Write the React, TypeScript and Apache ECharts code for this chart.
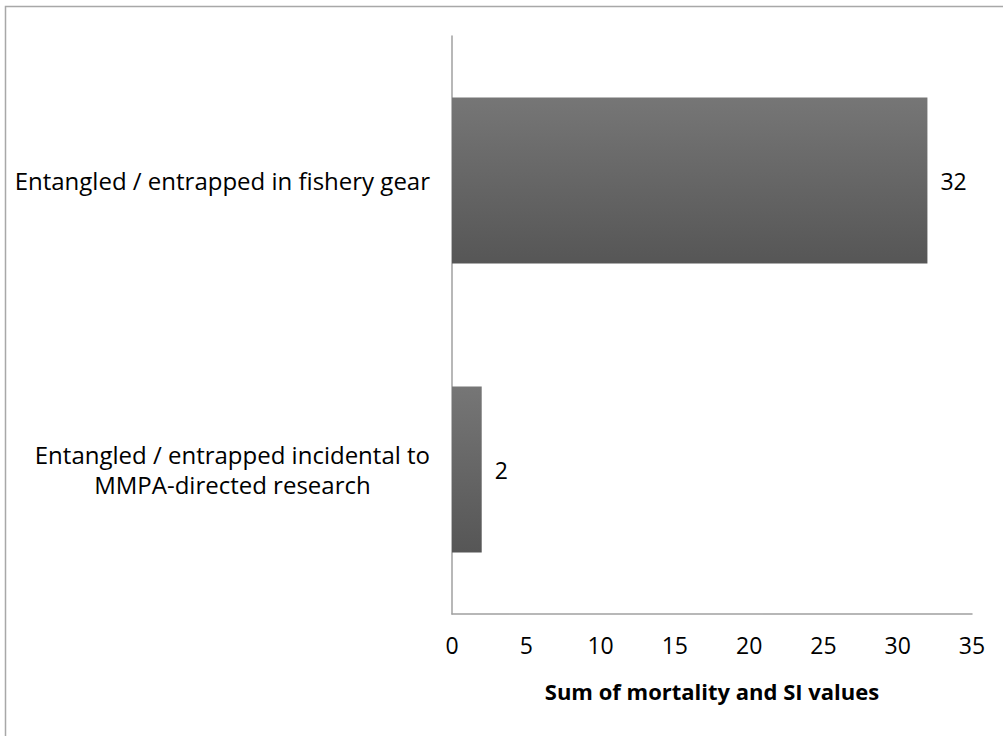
import React, { useEffect, useRef } from "react";
import * as echarts from "echarts";

const categories = [
  "Entangled / entrapped in fishery gear",
  "Entangled / entrapped incidental to\nMMPA-directed research",
];
const values = [32, 2];
const xTicks = [0, 5, 10, 15, 20, 25, 30, 35];
const xAxisTitle = "Sum of mortality and SI values";

const FONT = "'Open Sans', sans-serif";

export default function App() {
  const ref = useRef<HTMLDivElement>(null);
  useEffect(() => {
    if (!ref.current) return;
    const chart = echarts.init(ref.current, undefined, { renderer: "svg" });
    chart.setOption({
      animation: false,
      backgroundColor: "#ffffff",
      textStyle: { fontFamily: FONT },
      grid: { left: 452, top: 36, right: 31, bottom: 122, containLabel: false },
      graphic: [
        {
          type: "rect",
          shape: { x: 5.5, y: 6.5, width: 1200, height: 1200 },
          style: { fill: "none", stroke: "#a8a8a8", lineWidth: 1.5 },
          silent: true,
        },
      ],
      xAxis: {
        type: "value",
        min: xTicks[0],
        max: xTicks[xTicks.length - 1],
        interval: 5,
        name: xAxisTitle,
        nameLocation: "middle",
        nameGap: 66,
        nameTextStyle: { fontFamily: FONT, fontSize: 22, fontWeight: "bold", color: "#000" },
        axisLine: { show: true, lineStyle: { color: "#a0a0a0", width: 1.5 } },
        axisTick: { show: false },
        splitLine: { show: false },
        axisLabel: { fontFamily: FONT, fontSize: 23, color: "#000", margin: 19 },
      },
      yAxis: {
        type: "category",
        data: categories,
        inverse: true,
        axisLine: { show: true, lineStyle: { color: "#a0a0a0", width: 1.5 } },
        axisTick: { show: false },
        axisLabel: {
          fontFamily: FONT,
          fontSize: 24,
          color: "#000",
          margin: 22,
          lineHeight: 30,
          formatter: (v: string) =>
            v
              .split("\n")
              .map((l) => "{c|" + l + "}")
              .join("\n"),
          rich: {
            c: { fontFamily: FONT, fontSize: 24, color: "#000", lineHeight: 30, align: "center" },
          },
        },
      },
      series: [
        {
          type: "bar",
          data: values,
          barCategoryGap: "42.5%",
          itemStyle: {
            color: new echarts.graphic.LinearGradient(0, 0, 0, 1, [
              { offset: 0, color: "#767676" },
              { offset: 1, color: "#565656" },
            ]),
          },
          label: {
            show: true,
            position: "right",
            distance: 13,
            fontFamily: FONT,
            fontSize: 23,
            color: "#000",
          },
        },
      ],
    });
    return () => chart.dispose();
  }, []);
  return (
    <div
      ref={ref}
      style={{ position: "fixed", left: 0, top: 0, width: 1003, height: 736 }}
    />
  );
}
